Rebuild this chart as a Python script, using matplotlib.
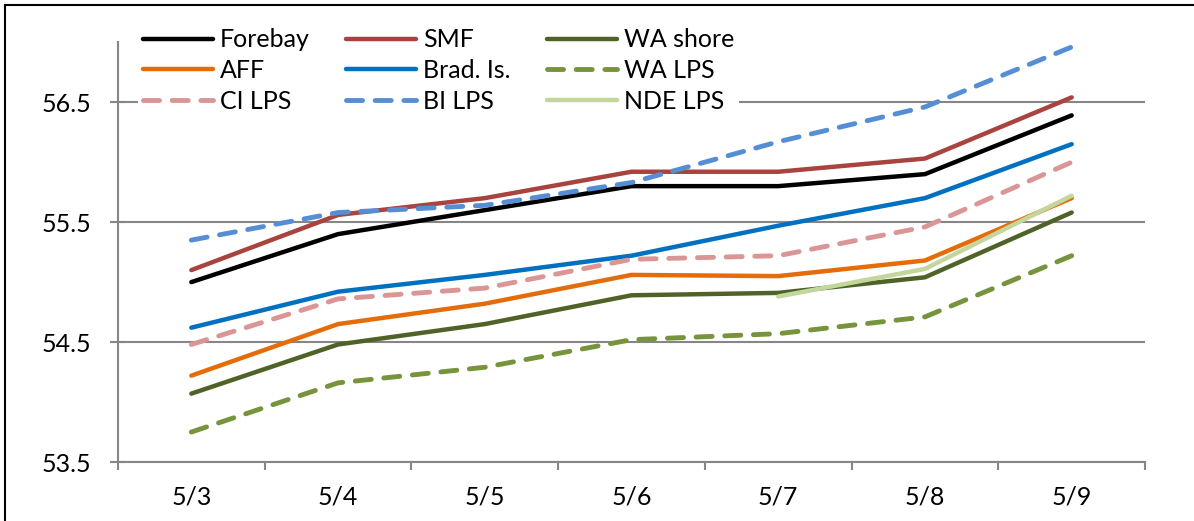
import matplotlib.pyplot as plt
from matplotlib.lines import Line2D

plt.rcParams['font.family'] = ['Lato', 'DejaVu Sans']

# data
dates = ['5/3', '5/4', '5/5', '5/6', '5/7', '5/8', '5/9']
forebay = [55.0, 55.4, 55.6, 55.8, 55.8, 55.9, 56.39]
smf = [55.1, 55.56, 55.7, 55.92, 55.92, 56.03, 56.54]
wa_shore = [54.07, 54.48, 54.65, 54.89, 54.91, 55.04, 55.58]
aff = [54.22, 54.65, 54.82, 55.06, 55.05, 55.18, 55.7]
brad_is = [54.62, 54.92, 55.06, 55.22, 55.47, 55.7, 56.15]
wa_lps = [53.75, 54.16, 54.29, 54.52, 54.57, 54.71, 55.22]
ci_lps = [54.48, 54.86, 54.95, 55.19, 55.22, 55.46, 56.0]
bi_lps = [55.35, 55.58, 55.64, 55.83, 56.17, 56.46, 56.96]
nde_lps = [None, None, None, None, 54.88, 55.11, 55.72]

yticks = [53.5, 54.5, 55.5, 56.5]

fig = plt.figure(figsize=(11.94, 5.21), dpi=100)
ax = fig.add_axes([0.0988, 0.1132, 0.8602, 0.8058])

x = list(range(len(dates)))
dash = (3.3, 2.6)
series = [
    ('Forebay', forebay, '#000000', '-'),
    ('SMF', smf, '#A9433F', '-'),
    ('WA shore', wa_shore, '#4F6228', '-'),
    ('AFF', aff, '#E46C0A', '-'),
    ('Brad. Is.', brad_is, '#0070C0', '-'),
    ('WA LPS', wa_lps, '#77933C', '--'),
    ('CI LPS', ci_lps, '#D99694', '--'),
    ('BI LPS', bi_lps, '#558ED5', '--'),
    ('NDE LPS', nde_lps, '#C3D69B', '-'),
]
handles = {}
for name, vals, col, ls in series:
    xs = [i for i, v in zip(x, vals) if v is not None]
    ys = [v for v in vals if v is not None]
    if ls == '--':
        ln, = ax.plot(xs, ys, color=col, lw=3.5, linestyle=(0, dash),
                      dash_capstyle='round', solid_joinstyle='round', label=name)
    else:
        ln, = ax.plot(xs, ys, color=col, lw=3.2, solid_capstyle='round',
                      solid_joinstyle='round', label=name)
    handles[name] = ln

ax.set_xlim(-0.5, 6.5)
ax.set_ylim(53.5, 57.0)
ax.set_yticks(yticks)
ax.set_yticklabels([f'{v:.1f}' for v in yticks])
ax.set_xticks(x)
ax.set_xticklabels(dates)
ax.set_xticks([i - 0.5 for i in range(len(dates) + 1)], minor=True)
ax.tick_params(axis='x', which='major', length=0, pad=17, labelsize=18)
ax.tick_params(axis='x', which='minor', length=6, width=1.5, color='#868686', direction='out')
ax.tick_params(axis='y', length=11, width=1.5, color='#868686', direction='inout',
               pad=14, labelsize=18)
for sp in ['top', 'right']:
    ax.spines[sp].set_visible(False)
for sp in ['left', 'bottom']:
    ax.spines[sp].set_color('#868686')
    ax.spines[sp].set_linewidth(1.5)
ax.grid(axis='y', color='#868686', lw=1.5)
ax.set_axisbelow(True)

order = ['Forebay', 'AFF', 'CI LPS', 'SMF', 'Brad. Is.', 'BI LPS',
         'WA shore', 'WA LPS', 'NDE LPS']
leg = ax.legend([handles[n] for n in order], order, ncol=3, loc='upper left',
                bbox_to_anchor=(0.1156, 0.955), bbox_transform=fig.transFigure,
                fontsize=18, frameon=True, framealpha=1, edgecolor='none',
                fancybox=False, handlelength=2.8, handletextpad=0.28,
                columnspacing=1.45, labelspacing=0.31, borderpad=0.2,
                borderaxespad=0)

# outer chart border
fig.add_artist(Line2D([0.004, 0.004], [0, 0.99], transform=fig.transFigure, color='black', lw=1.5))
fig.add_artist(Line2D([0.004, 1], [0.99, 0.99], transform=fig.transFigure, color='black', lw=1.5))

fig.savefig('out.png', dpi=100)
